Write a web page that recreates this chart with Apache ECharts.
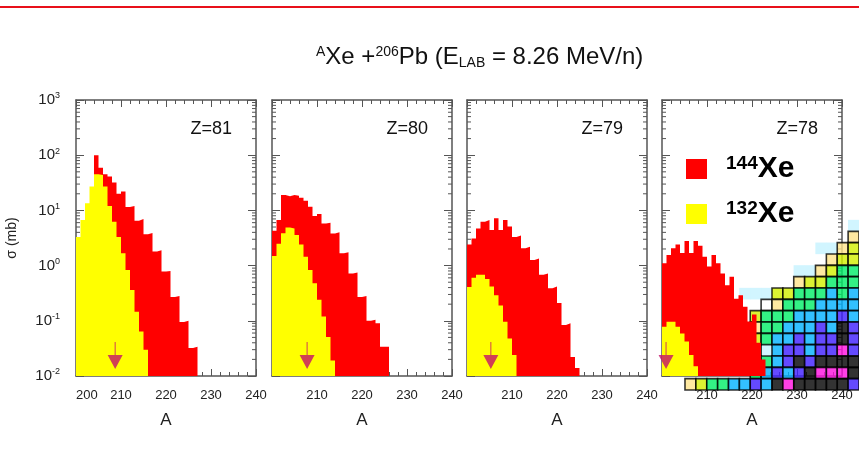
<!DOCTYPE html>
<html>
<head>
<meta charset="utf-8">
<title>AXe + 206Pb</title>
<script src="https://cdn.jsdelivr.net/npm/echarts@6/dist/echarts.min.js"></script>
<style>
  html, body { margin: 0; padding: 0; background: #fff; }
  #main { width: 859px; height: 452px; }
</style>
</head>
<body>
<div id="main"></div>
<script>
// one panel per Z of the target-like fragment
var zLabels = ['Z=81', 'Z=80', 'Z=79', 'Z=78'];
var xTicks = [200, 210, 220, 230, 240];
var yRange = [0.01, 1000];

// first mass number of each histogram
var redStart = [204, 200, 200, 200];
var yellowStart = [200, 200, 200, 200];

// 144Xe cross sections (mb), one bin per A
var red81 = [100, 59, 45, 41, 32, 20, 22, 11.5, 12, 6.5, 7, 3.7, 3.9, 1.8, 1.9, 0.78, 0.8, 0.27, 0.28, 0.095, 0.1, 0.032, 0.034];
var red80 = [4.3, 6.7, 19, 18, 19, 18.5, 17, 15, 11.7, 7.9, 8.6, 5.8, 6.0, 3.8, 4.0, 1.67, 1.75, 0.72, 0.75, 0.27, 0.28, 0.1, 0.105, 0.09, 0.034, 0.034];
var red79 = [2.4, 3.1, 4.7, 6.2, 6.7, 4.4, 7.2, 4.4, 6.7, 5.1, 3.3, 3.5, 2.06, 2.2, 1.26, 1.35, 0.68, 0.72, 0.39, 0.42, 0.21, 0.084, 0.09, 0.022, 0.014];
var red78 = [1.1, 1.55, 2.06, 2.4, 1.7, 2.8, 1.7, 2.8, 2.3, 1.45, 0.96, 1.55, 1.1, 0.72, 0.44, 0.63, 0.25, 0.29, 0.18, 0.097, 0.13, 0.04, 0.02];

// 132Xe cross sections (mb)
var yellow81 = [3.3, 6.7, 13.5, 27, 45, 44, 27, 12, 6.2, 3.3, 1.67, 0.83, 0.36, 0.146, 0.064, 0.03];
var yellow80 = [1.5, 2.5, 3.85, 4.9, 4.7, 3.6, 2.4, 1.45, 0.83, 0.48, 0.24, 0.12, 0.051, 0.019];
var yellow79 = [0.41, 0.6, 0.68, 0.68, 0.57, 0.42, 0.29, 0.19, 0.096, 0.048, 0.024];
var yellow78 = [0.078, 0.096, 0.096, 0.078, 0.059, 0.042, 0.024, 0.015];

// arrow markers (A) near the bottom of each panel
var arrowA = [208.7, 207.8, 205.3, 200.9];
var arrowY = 0.0235;

// piece of a nuclide chart pasted over the last panel, one letter per cell
// Y pale yellow, L lime, G green, C cyan, B blue, K black, M magenta, P pale cyan, W empty box
var nucRows = [
  '...............P',
  '...............Y',
  '............PPYL',
  '.............YLL',
  '..........PPYLGG',
  '..........YLLGGG',
  '.....PPPLLGGGCGC',
  '.......WYGGGCCCC',
  '......LGGGCCCCBC',
  '......YGGCCCBCKB',
  '......LGCCBCBBKB',
  '......GPCBBCBBMB',
  '......GGCBKBKKKK',
  '......GCBCBKMMMK',
  'YLGGCCBCKMKKKKKB'
];
var nucColors = {
  Y: '#ffe38a', L: '#d2f000', G: '#00ee66', C: '#00b2ff', B: '#3d1dff',
  K: '#000000', M: '#ff10e0', P: '#c6f3ff', W: '#ffffff'
};

var redSets = [red81, red80, red79, red78];
var yellowSets = [yellow81, yellow80, yellow79, yellow78];

var panelLeft = [76, 272, 467, 662];
var panelW = 180, panelTop = 100, panelH = 276;
var frameColor = '#555';

// step histogram: one point per bin start, plus the closing edge
function hist(start, vals) {
  var out = [];
  for (var i = 0; i < vals.length; i++) {
    out.push([start + i, vals[i]]);
  }
  out.push([start + vals.length, vals[vals.length - 1]]);
  return out;
}

// log minor tick positions (2..9 in every decade)
var minorVals = [];
for (var d = -2; d <= 2; d++) {
  for (var k = 2; k <= 9; k++) {
    minorVals.push([200, k * Math.pow(10, d)]);
  }
}

var grids = [], xAxes = [], yAxes = [], series = [], graphics = [];

for (var p = 0; p < 4; p++) {
  grids.push({ left: panelLeft[p], top: panelTop, width: panelW, height: panelH });

  var xBase = {
    type: 'value', gridIndex: p, min: xTicks[0], max: xTicks[xTicks.length - 1], interval: 10,
    axisLine: { show: true, onZero: false, lineStyle: { color: frameColor, width: 1.5 } },
    axisTick: { show: true, inside: true, length: 7, lineStyle: { color: frameColor } },
    minorTick: { show: true, splitNumber: 5, length: 4, lineStyle: { color: frameColor } },
    splitLine: { show: false }
  };
  xAxes.push(Object.assign({}, xBase, {
    position: 'bottom',
    name: 'A', nameLocation: 'middle', nameGap: 36,
    nameTextStyle: { fontFamily: 'Liberation Sans', fontSize: 17, color: '#222' },
    axisLabel: {
      show: true, fontFamily: 'Liberation Sans', fontSize: 13, color: '#222', margin: 13,
      showMinLabel: p === 0, alignMinLabel: 'left'
    }
  }));
  xAxes.push(Object.assign({}, xBase, { position: 'top', axisLabel: { show: false } }));

  var yBase = {
    type: 'log', logBase: 10, gridIndex: p, min: yRange[0], max: yRange[1],
    axisLine: { show: true, onZero: false, lineStyle: { color: frameColor, width: 1.5 } },
    axisTick: { show: true, inside: true, length: 8, lineStyle: { color: frameColor } },
    splitLine: { show: false }
  };
  var yLeft = Object.assign({}, yBase, {
    position: 'left',
    axisLabel: {
      show: p === 0, margin: 16,
      formatter: function (v) {
        var e = Math.round(Math.log(v) / Math.LN10);
        return '{b|10}{e|' + e + '}';
      },
      rich: {
        b: { fontFamily: 'Liberation Sans', fontSize: 15, color: '#222' },
        e: { fontFamily: 'Liberation Sans', fontSize: 9, color: '#222', verticalAlign: 'top', padding: [0, 0, 8, 0] }
      }
    }
  });
  if (p === 0) {
    yLeft.name = 'σ (mb)';
    yLeft.nameLocation = 'middle';
    yLeft.nameGap = 57;
    yLeft.nameTextStyle = { fontFamily: 'Liberation Sans', fontSize: 14, color: '#222' };
  }
  yAxes.push(yLeft);
  yAxes.push(Object.assign({}, yBase, { position: 'right', axisLabel: { show: false } }));

  var xi = 2 * p, yi = 2 * p;

  series.push({
    name: '144Xe', type: 'line', xAxisIndex: xi, yAxisIndex: yi,
    data: hist(redStart[p], redSets[p]), step: 'end', symbol: 'none',
    lineStyle: { width: 0 }, itemStyle: { color: '#ff0000' },
    areaStyle: { color: '#ff0000', opacity: 1 }, z: 3
  });
  series.push({
    name: '132Xe', type: 'line', xAxisIndex: xi, yAxisIndex: yi,
    data: hist(yellowStart[p], yellowSets[p]), step: 'end', symbol: 'none',
    lineStyle: { width: 0 }, itemStyle: { color: '#ffff00' },
    areaStyle: { color: '#ffff00', opacity: 1 }, z: 4
  });
  series.push({
    type: 'scatter', xAxisIndex: xi, yAxisIndex: yi,
    data: [[arrowA[p], arrowY]],
    symbol: 'path://M7,0 L8,0 L8,13 L15,13 L7.5,27 L0,13 L7,13 Z',
    symbolSize: [15, 27], itemStyle: { color: '#c4106a' }, z: 6, silent: true
  });
  // log-spaced minor ticks on the left and right frame
  series.push({
    type: 'custom', xAxisIndex: xi, yAxisIndex: yi, data: minorVals, silent: true, clip: false, z: 1,
    renderItem: function (params, api) {
      var y = api.coord([api.value(0), api.value(1)])[1];
      var cs = params.coordSys;
      var st = { stroke: frameColor, lineWidth: 1 };
      return {
        type: 'group', children: [
          { type: 'line', shape: { x1: cs.x, y1: y, x2: cs.x + 4, y2: y }, style: st },
          { type: 'line', shape: { x1: cs.x + cs.width - 4, y1: y, x2: cs.x + cs.width, y2: y }, style: st }
        ]
      };
    }
  });

  graphics.push({
    type: 'text', right: 859 - (panelLeft[p] + panelW - 24), top: 120, z: 10,
    style: { text: zLabels[p], fontFamily: 'Liberation Sans', fontSize: 18, fill: '#111' }
  });
}

// nuclide chart cells on their own hidden grid
var nCols = nucRows[0].length, nRowsCount = nucRows.length;
grids.push({ left: 685, top: 220, width: 174.4, height: 170 });
var colCats = [], rowCats = [];
for (var c = 0; c < nCols; c++) colCats.push(String(c));
for (var r = 0; r < nRowsCount; r++) rowCats.push(String(r));
xAxes.push({ type: 'category', gridIndex: 4, data: colCats, show: false });
yAxes.push({ type: 'category', gridIndex: 4, data: rowCats, inverse: true, show: false });

var boxCells = [], paleCells = [];
for (var r2 = 0; r2 < nRowsCount; r2++) {
  for (var c2 = 0; c2 < nCols; c2++) {
    var ch = nucRows[r2].charAt(c2);
    if (ch === '.') continue;
    var item = { value: [c2, r2], itemStyle: { color: nucColors[ch] } };
    if (ch === 'P') paleCells.push(item); else boxCells.push(item);
  }
}
series.push({
  type: 'scatter', xAxisIndex: 8, yAxisIndex: 8, data: paleCells, silent: true,
  symbol: 'rect', symbolSize: [11.2, 11.6], z: 1
});
series.push({
  type: 'scatter', xAxisIndex: 8, yAxisIndex: 8, data: boxCells, silent: true,
  symbol: 'rect', symbolSize: [10.9, 11.3],
  itemStyle: { borderColor: '#000', borderWidth: 1.6 }, z: 2
});

// slide rule at the top
graphics.push({
  type: 'rect', shape: { x: 0, y: 6, width: 859, height: 2 },
  style: { fill: '#e8101a' }
});

var chart = echarts.init(document.getElementById('main'), null, { renderer: 'canvas' });
chart.setOption({
  animation: false,
  backgroundColor: '#fff',
  title: {
    text: '{s|A}Xe +{s|206}Pb (E{l|LAB} = 8.26 MeV/n)',
    left: 311, top: 40,
    textStyle: {
      fontFamily: 'Liberation Sans', fontSize: 24, fontWeight: 'normal', color: '#111',
      rich: {
        s: { fontFamily: 'Liberation Sans', fontSize: 14, color: '#111', verticalAlign: 'top', padding: [0, 0, 11, 0] },
        l: { fontFamily: 'Liberation Sans', fontSize: 14, color: '#111', verticalAlign: 'bottom', padding: [11, 0, 0, 0] }
      }
    }
  },
  legend: {
    orient: 'vertical', left: 686, top: 154, padding: 0,
    itemWidth: 21, itemHeight: 20, itemGap: 15,
    icon: 'rect', data: ['144Xe', '132Xe'], selectedMode: false,
    formatter: function (n) {
      return '{g|}{s|' + n.slice(0, 3) + '}{b|Xe}';
    },
    textStyle: {
      rich: {
        g: { width: 14 },
        s: { fontFamily: 'Liberation Sans', fontSize: 19, fontWeight: 'bold', color: '#000', verticalAlign: 'top' },
        b: { fontFamily: 'Liberation Sans', fontSize: 30, fontWeight: 'bold', color: '#000' }
      }
    }
  },
  grid: grids,
  xAxis: xAxes,
  yAxis: yAxes,
  series: series,
  graphic: graphics
});
</script>
</body>
</html>
